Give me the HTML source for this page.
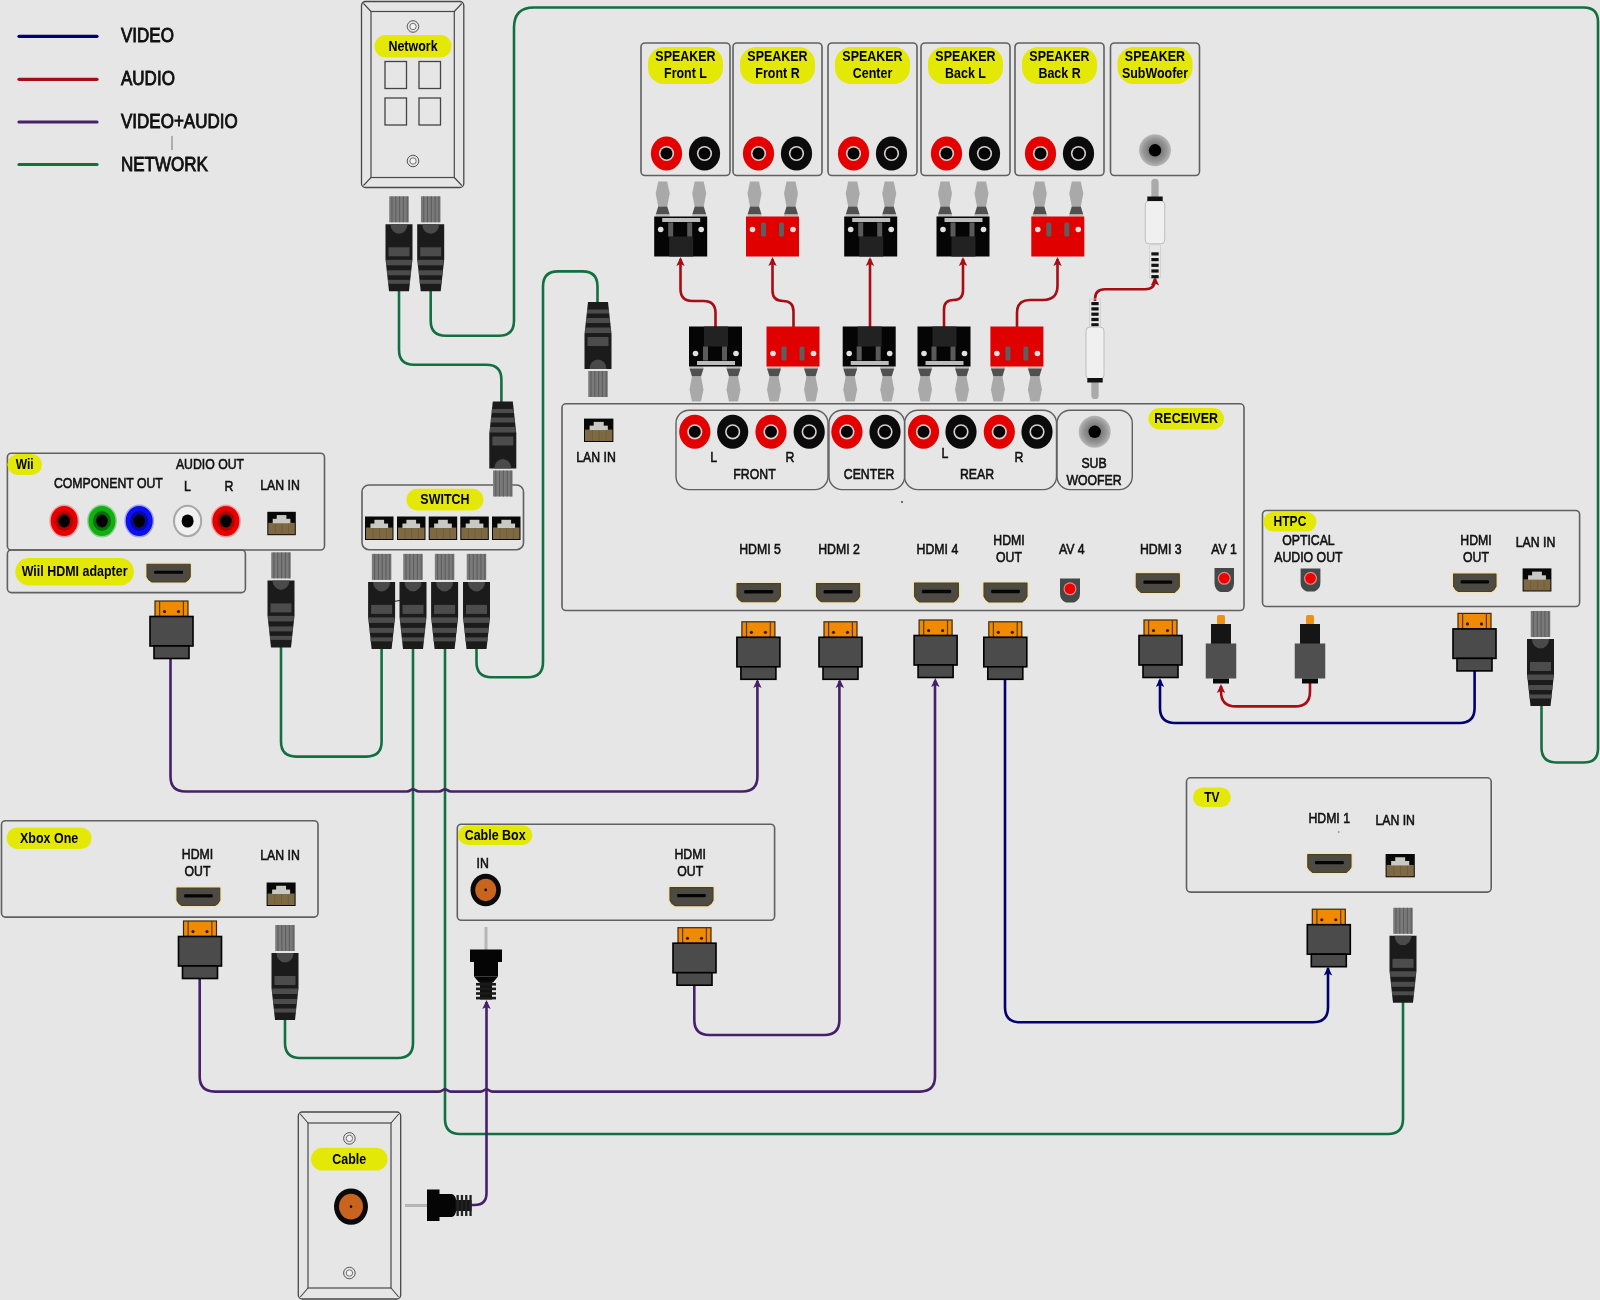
<!DOCTYPE html>
<html><head><meta charset="utf-8"><title>Home theater wiring</title>
<style>html,body{margin:0;padding:0;background:#e6e6e6;}svg{display:block;will-change:transform;}</style>
</head><body>
<svg width="1600" height="1300" viewBox="0 0 1600 1300" style='font-family:"Liberation Sans", sans-serif;'>
<defs><radialGradient id="subg"><stop offset="0.35" stop-color="#777"/><stop offset="0.75" stop-color="#999"/><stop offset="1" stop-color="#b8b8b8"/></radialGradient></defs>
<rect x="0" y="0" width="1600" height="1300" fill="#e6e6e6"/>
<line x1="19" y1="36.3" x2="97" y2="36.3" stroke="#00006e" stroke-width="3.2" stroke-linecap="round"/>
<line x1="19" y1="79.3" x2="97" y2="79.3" stroke="#a80c14" stroke-width="3.2" stroke-linecap="round"/>
<line x1="19" y1="122" x2="97" y2="122" stroke="#47206a" stroke-width="3.2" stroke-linecap="round"/>
<line x1="19" y1="164.5" x2="97" y2="164.5" stroke="#127040" stroke-width="3.2" stroke-linecap="round"/>
<line x1="172" y1="136" x2="172" y2="150" stroke="#777" stroke-width="1"/>
<text transform="translate(121 42.28) scale(0.83 1)" text-anchor="start" font-size="20.5" font-weight="normal" fill="#111" stroke="#111" stroke-width="0.9">VIDEO</text>
<text transform="translate(121 84.98) scale(0.83 1)" text-anchor="start" font-size="20.5" font-weight="normal" fill="#111" stroke="#111" stroke-width="0.9">AUDIO</text>
<text transform="translate(121 127.78) scale(0.83 1)" text-anchor="start" font-size="20.5" font-weight="normal" fill="#111" stroke="#111" stroke-width="0.9">VIDEO+AUDIO</text>
<text transform="translate(121 170.58) scale(0.83 1)" text-anchor="start" font-size="20.5" font-weight="normal" fill="#111" stroke="#111" stroke-width="0.9">NETWORK</text>
<path d="M430.7 290 V320.7 Q430.7 335.7 445.7 335.7 H499 Q514 335.7 514 320.7 V27.5 Q514 7.5 534 7.5 H1584 Q1598 7.7 1598 21.7 V748.5 Q1598 762.5 1584 762.5 H1556.5 Q1541.5 762.5 1541.5 747.5 V705" fill="none" stroke="#127040" stroke-width="2.6" stroke-linejoin="round"/>
<path d="M399 290 V349.7 Q399 364.7 414 364.7 H486.4 Q501.4 364.7 501.4 379.7 V402" fill="none" stroke="#127040" stroke-width="2.6" stroke-linejoin="round"/>
<path d="M597.5 302 V286.4 Q597.5 271.4 582.5 271.4 H558 Q543 271.4 543 286.4 V662.3 Q543 677.3 528 677.3 H491.5 Q476.5 677.3 476.5 662.3 V648" fill="none" stroke="#127040" stroke-width="2.6" stroke-linejoin="round"/>
<path d="M281 647 V741.6 Q281 756.6 296 756.6 H366.6 Q381.6 756.6 381.6 741.6 V648" fill="none" stroke="#127040" stroke-width="2.6" stroke-linejoin="round"/>
<path d="M413 648 V1043 Q413 1058 398 1058 H300 Q285 1058 285 1043 V1019" fill="none" stroke="#127040" stroke-width="2.6" stroke-linejoin="round"/>
<path d="M445 648 V1119 Q445 1134 460 1134 H1388 Q1403 1134 1403 1119 V1002" fill="none" stroke="#127040" stroke-width="2.6" stroke-linejoin="round"/>
<path d="M170.5 657 V776.5 Q170.5 791.5 185.5 791.5 H407.0 C410.0 791.5 411.0 789.2 413.0 789.2 C415.0 789.2 416.0 791.5 419.0 791.5 H439.0 C442.0 791.5 443.0 789.2 445.0 789.2 C447.0 789.2 448.0 791.5 451.0 791.5 H742.4 Q757.4 791.5 757.4 776.5 V681" fill="none" stroke="#47206a" stroke-width="2.6" stroke-linejoin="round"/>
<path d="M757.4 679 L761.6 688 L757.4 686 L753.2 688 Z" fill="#47206a"/>
<path d="M694.3 984 V1020 Q694.3 1035 709.3 1035 H824.4 Q839.4 1035 839.4 1020 V681" fill="none" stroke="#47206a" stroke-width="2.6" stroke-linejoin="round"/>
<path d="M839.8 679 L844 688 L839.8 686 L835.6 688 Z" fill="#47206a"/>
<path d="M199.7 978 V1076.6 Q199.7 1091.6 214.7 1091.6 H439.0 C442.0 1091.6 443.0 1089.3 445.0 1089.3 C447.0 1089.3 448.0 1091.6 451.0 1091.6 H480.5 C483.5 1091.6 484.5 1089.3 486.5 1089.3 C488.5 1089.3 489.5 1091.6 492.5 1091.6 H920 Q935 1091.6 935 1076.6 V681" fill="none" stroke="#47206a" stroke-width="2.6" stroke-linejoin="round"/>
<path d="M935.3 678 L939.5 687 L935.3 685 L931.1 687 Z" fill="#47206a"/>
<path d="M470 1205 H474.5 Q486.5 1205 486.5 1193 V1002" fill="none" stroke="#47206a" stroke-width="2.6" stroke-linejoin="round"/>
<path d="M486.5 1000 L490.7 1009 L486.5 1007 L482.3 1009 Z" fill="#47206a"/>
<path d="M1005 679 V1007.3 Q1005 1022.3 1020 1022.3 H1313 Q1328 1022.3 1328 1007.3 V968" fill="none" stroke="#00006e" stroke-width="2.6" stroke-linejoin="round"/>
<path d="M1328 966.5 L1332.2 975.5 L1328 973.5 L1323.8 975.5 Z" fill="#00006e"/>
<path d="M1474.6 671 V708 Q1474.6 723 1459.6 723 H1175 Q1160 723 1160 708 V680" fill="none" stroke="#00006e" stroke-width="2.6" stroke-linejoin="round"/>
<path d="M1160 678 L1164.2 687 L1160 685 L1155.8 687 Z" fill="#00006e"/>
<path d="M1310 683 V691.4 Q1310 706.4 1295 706.4 H1236 Q1221 706.4 1221 691.4 V686" fill="none" stroke="#a80c14" stroke-width="2.6" stroke-linejoin="round"/>
<path d="M1221 684 L1225.2 693 L1221 691 L1216.8 693 Z" fill="#a80c14"/>
<path d="M715.5 327 V313 Q715.5 301 703.5 301 H692.5 Q680.5 301 680.5 289 V259" fill="none" stroke="#a80c14" stroke-width="2.6" stroke-linejoin="round"/>
<path d="M680.5 257 L684.7 266 L680.5 264 L676.3 266 Z" fill="#a80c14"/>
<path d="M793.5 327 V311.5 Q793.5 301 783 301 Q772.5 301 772.5 290.5 V259" fill="none" stroke="#a80c14" stroke-width="2.6" stroke-linejoin="round"/>
<path d="M772.5 257 L776.7 266 L772.5 264 L768.3 266 Z" fill="#a80c14"/>
<path d="M870 327 V259" fill="none" stroke="#a80c14" stroke-width="2.6" stroke-linejoin="round"/>
<path d="M870 257 L874.2 266 L870 264 L865.8 266 Z" fill="#a80c14"/>
<path d="M944 327 V309.5 Q944 300 953.5 300 Q963 300 963 290.5 V259" fill="none" stroke="#a80c14" stroke-width="2.6" stroke-linejoin="round"/>
<path d="M963 257 L967.2 266 L963 264 L958.8 266 Z" fill="#a80c14"/>
<path d="M1017 327 V313 Q1017 300 1030 300 H1043 Q1057.5 300 1057.5 285.5 V259" fill="none" stroke="#a80c14" stroke-width="2.6" stroke-linejoin="round"/>
<path d="M1057.5 257 L1061.7 266 L1057.5 264 L1053.3 266 Z" fill="#a80c14"/>
<path d="M1095 301 V299 Q1095 289.2 1105 289.2 H1145 Q1155 289.2 1155 279.2 V279" fill="none" stroke="#a80c14" stroke-width="2.6" stroke-linejoin="round"/>
<path d="M1155 276.5 L1159.2 285.5 L1155 283.5 L1150.8 285.5 Z" fill="#a80c14"/>
<rect x="361.5" y="1.5" width="102.3" height="186" rx="4" fill="none" stroke="#484848" stroke-width="1.3"/>
<rect x="371" y="11.5" width="83.3" height="166" fill="none" stroke="#484848" stroke-width="1.2"/>
<line x1="363.5" y1="3.5" x2="371" y2="11.5" stroke="#444" stroke-width="1.1"/>
<line x1="461.8" y1="3.5" x2="454.3" y2="11.5" stroke="#444" stroke-width="1.1"/>
<line x1="363.5" y1="185.5" x2="371" y2="177.5" stroke="#444" stroke-width="1.1"/>
<line x1="461.8" y1="185.5" x2="454.3" y2="177.5" stroke="#444" stroke-width="1.1"/>
<circle cx="413" cy="26.5" r="5.8" fill="#e4e4e4" stroke="#555" stroke-width="1"/>
<circle cx="413" cy="26.5" r="3.2" fill="#f2f2f2" stroke="#666" stroke-width="0.9"/>
<circle cx="413" cy="161" r="5.8" fill="#e4e4e4" stroke="#555" stroke-width="1"/>
<circle cx="413" cy="161" r="3.2" fill="#f2f2f2" stroke="#666" stroke-width="0.9"/>
<rect x="374.5" y="35" width="77" height="22.5" rx="11.25" fill="#e4e806"/>
<text transform="translate(413 50.67) scale(0.86 1)" text-anchor="middle" font-size="14.5" font-weight="bold" fill="#000">Network</text>
<rect x="385" y="61.5" width="21.5" height="27" fill="none" stroke="#444" stroke-width="1.3"/>
<rect x="419" y="61.5" width="21.5" height="27" fill="none" stroke="#444" stroke-width="1.3"/>
<rect x="385" y="98" width="21.5" height="27" fill="none" stroke="#444" stroke-width="1.3"/>
<rect x="419" y="98" width="21.5" height="27" fill="none" stroke="#444" stroke-width="1.3"/>
<rect x="389.25" y="196.3" width="19.5" height="26" fill="#7a7a7a"/>
<rect x="391.45" y="196.3" width="1.1" height="26" fill="#5e5e5e"/>
<rect x="395.25" y="196.3" width="1.1" height="26" fill="#5e5e5e"/>
<rect x="399.05" y="196.3" width="1.1" height="26" fill="#5e5e5e"/>
<rect x="402.85" y="196.3" width="1.1" height="26" fill="#5e5e5e"/>
<rect x="406.65" y="196.3" width="1.1" height="26" fill="#5e5e5e"/>
<path d="M385.5 224.3 H412.5 V259.3 L409 291.3 H389 L385.5 259.3 Z" fill="#1b1b1b"/>
<path d="M390.5 224.3 A8.5 9.5 0 0 0 407.5 224.3 Z" fill="#4a4a4a"/>
<rect x="388.5" y="247.3" width="21" height="9" fill="#4c4c4c"/>
<rect x="386.2" y="259.8" width="25.6" height="5.5" fill="#4c4c4c"/>
<rect x="387.2" y="270.3" width="23.6" height="5" fill="#4c4c4c"/>
<rect x="388" y="279.8" width="22" height="4" fill="#4c4c4c"/>
<rect x="420.95" y="196.3" width="19.5" height="26" fill="#7a7a7a"/>
<rect x="423.15" y="196.3" width="1.1" height="26" fill="#5e5e5e"/>
<rect x="426.95" y="196.3" width="1.1" height="26" fill="#5e5e5e"/>
<rect x="430.75" y="196.3" width="1.1" height="26" fill="#5e5e5e"/>
<rect x="434.55" y="196.3" width="1.1" height="26" fill="#5e5e5e"/>
<rect x="438.35" y="196.3" width="1.1" height="26" fill="#5e5e5e"/>
<path d="M417.2 224.3 H444.2 V259.3 L440.7 291.3 H420.7 L417.2 259.3 Z" fill="#1b1b1b"/>
<path d="M422.2 224.3 A8.5 9.5 0 0 0 439.2 224.3 Z" fill="#4a4a4a"/>
<rect x="420.2" y="247.3" width="21" height="9" fill="#4c4c4c"/>
<rect x="417.9" y="259.8" width="25.6" height="5.5" fill="#4c4c4c"/>
<rect x="418.9" y="270.3" width="23.6" height="5" fill="#4c4c4c"/>
<rect x="419.7" y="279.8" width="22" height="4" fill="#4c4c4c"/>
<rect x="641" y="43" width="89" height="132.5" rx="4" fill="none" stroke="#606060" stroke-width="1.6"/>
<rect x="648" y="47" width="75" height="37" rx="16" fill="#e4e806"/>
<text transform="translate(685.5 60.67) scale(0.86 1)" text-anchor="middle" font-size="14.5" font-weight="bold" fill="#000">SPEAKER</text>
<text transform="translate(685.5 78.17) scale(0.86 1)" text-anchor="middle" font-size="14.5" font-weight="bold" fill="#000">Front L</text>
<ellipse cx="666.5" cy="153.5" rx="15.6" ry="17" fill="#e30000"/>
<circle cx="666.5" cy="153.5" r="7.6" fill="#d8d0d0"/>
<circle cx="666.5" cy="153.5" r="6" fill="#050505"/>
<ellipse cx="704.5" cy="153.5" rx="15.6" ry="17" fill="#0b0b0b"/>
<circle cx="704.5" cy="153.5" r="7.6" fill="#d8d0d0"/>
<circle cx="704.5" cy="153.5" r="6" fill="#050505"/>
<rect x="733" y="43" width="89" height="132.5" rx="4" fill="none" stroke="#606060" stroke-width="1.6"/>
<rect x="740" y="47" width="75" height="37" rx="16" fill="#e4e806"/>
<text transform="translate(777.5 60.67) scale(0.86 1)" text-anchor="middle" font-size="14.5" font-weight="bold" fill="#000">SPEAKER</text>
<text transform="translate(777.5 78.17) scale(0.86 1)" text-anchor="middle" font-size="14.5" font-weight="bold" fill="#000">Front R</text>
<ellipse cx="758.5" cy="153.5" rx="15.6" ry="17" fill="#e30000"/>
<circle cx="758.5" cy="153.5" r="7.6" fill="#d8d0d0"/>
<circle cx="758.5" cy="153.5" r="6" fill="#050505"/>
<ellipse cx="796.5" cy="153.5" rx="15.6" ry="17" fill="#0b0b0b"/>
<circle cx="796.5" cy="153.5" r="7.6" fill="#d8d0d0"/>
<circle cx="796.5" cy="153.5" r="6" fill="#050505"/>
<rect x="828" y="43" width="89" height="132.5" rx="4" fill="none" stroke="#606060" stroke-width="1.6"/>
<rect x="835" y="47" width="75" height="37" rx="16" fill="#e4e806"/>
<text transform="translate(872.5 60.67) scale(0.86 1)" text-anchor="middle" font-size="14.5" font-weight="bold" fill="#000">SPEAKER</text>
<text transform="translate(872.5 78.17) scale(0.86 1)" text-anchor="middle" font-size="14.5" font-weight="bold" fill="#000">Center</text>
<ellipse cx="853.5" cy="153.5" rx="15.6" ry="17" fill="#e30000"/>
<circle cx="853.5" cy="153.5" r="7.6" fill="#d8d0d0"/>
<circle cx="853.5" cy="153.5" r="6" fill="#050505"/>
<ellipse cx="891.5" cy="153.5" rx="15.6" ry="17" fill="#0b0b0b"/>
<circle cx="891.5" cy="153.5" r="7.6" fill="#d8d0d0"/>
<circle cx="891.5" cy="153.5" r="6" fill="#050505"/>
<rect x="921" y="43" width="89" height="132.5" rx="4" fill="none" stroke="#606060" stroke-width="1.6"/>
<rect x="928" y="47" width="75" height="37" rx="16" fill="#e4e806"/>
<text transform="translate(965.5 60.67) scale(0.86 1)" text-anchor="middle" font-size="14.5" font-weight="bold" fill="#000">SPEAKER</text>
<text transform="translate(965.5 78.17) scale(0.86 1)" text-anchor="middle" font-size="14.5" font-weight="bold" fill="#000">Back L</text>
<ellipse cx="946.5" cy="153.5" rx="15.6" ry="17" fill="#e30000"/>
<circle cx="946.5" cy="153.5" r="7.6" fill="#d8d0d0"/>
<circle cx="946.5" cy="153.5" r="6" fill="#050505"/>
<ellipse cx="984.5" cy="153.5" rx="15.6" ry="17" fill="#0b0b0b"/>
<circle cx="984.5" cy="153.5" r="7.6" fill="#d8d0d0"/>
<circle cx="984.5" cy="153.5" r="6" fill="#050505"/>
<rect x="1015" y="43" width="89" height="132.5" rx="4" fill="none" stroke="#606060" stroke-width="1.6"/>
<rect x="1022" y="47" width="75" height="37" rx="16" fill="#e4e806"/>
<text transform="translate(1059.5 60.67) scale(0.86 1)" text-anchor="middle" font-size="14.5" font-weight="bold" fill="#000">SPEAKER</text>
<text transform="translate(1059.5 78.17) scale(0.86 1)" text-anchor="middle" font-size="14.5" font-weight="bold" fill="#000">Back R</text>
<ellipse cx="1040.5" cy="153.5" rx="15.6" ry="17" fill="#e30000"/>
<circle cx="1040.5" cy="153.5" r="7.6" fill="#d8d0d0"/>
<circle cx="1040.5" cy="153.5" r="6" fill="#050505"/>
<ellipse cx="1078.5" cy="153.5" rx="15.6" ry="17" fill="#0b0b0b"/>
<circle cx="1078.5" cy="153.5" r="7.6" fill="#d8d0d0"/>
<circle cx="1078.5" cy="153.5" r="6" fill="#050505"/>
<rect x="1110.5" y="43" width="89" height="132.5" rx="4" fill="none" stroke="#606060" stroke-width="1.6"/>
<rect x="1117.5" y="47" width="75" height="37" rx="16" fill="#e4e806"/>
<text transform="translate(1155 60.67) scale(0.86 1)" text-anchor="middle" font-size="14.5" font-weight="bold" fill="#000">SPEAKER</text>
<text transform="translate(1155 78.17) scale(0.86 1)" text-anchor="middle" font-size="14.5" font-weight="bold" fill="#000">SubWoofer</text>
<circle cx="1155" cy="150.3" r="16" fill="url(#subg)"/>
<circle cx="1155" cy="150.3" r="6.2" fill="#000"/>
<path d="M658.2 181.5 H667.2 L669.7 193.5 L667.2 206.5 H658.2 L655.7 193.5 Z" fill="#a9a9a9"/>
<path d="M658.2 206.5 H667.2 L669.7 214.5 H655.7 Z" fill="#505050"/>
<rect x="655.7" y="214.5" width="14" height="2" fill="#bdbdbd"/>
<path d="M694.7 181.5 H703.7 L706.2 193.5 L703.7 206.5 H694.7 L692.2 193.5 Z" fill="#a9a9a9"/>
<path d="M694.7 206.5 H703.7 L706.2 214.5 H692.2 Z" fill="#505050"/>
<rect x="692.2" y="214.5" width="14" height="2" fill="#bdbdbd"/>
<rect x="654.2" y="216.5" width="53" height="40" fill="#050505"/>
<rect x="669.2" y="236.5" width="24" height="20" fill="#222"/>
<rect x="668.2" y="222.5" width="5" height="14" fill="#5a5a5a"/>
<rect x="687.2" y="222.5" width="5" height="14" fill="#5a5a5a"/>
<rect x="662.2" y="218" width="38" height="4" fill="#bcbcbc"/>
<circle cx="660.7" cy="229.5" r="2.8" fill="#e0e0e0"/>
<circle cx="701.2" cy="229.5" r="2.8" fill="#e0e0e0"/>
<path d="M750 181.5 H759 L761.5 193.5 L759 206.5 H750 L747.5 193.5 Z" fill="#a9a9a9"/>
<path d="M750 206.5 H759 L761.5 214.5 H747.5 Z" fill="#505050"/>
<rect x="747.5" y="214.5" width="14" height="2" fill="#bdbdbd"/>
<path d="M786.5 181.5 H795.5 L798 193.5 L795.5 206.5 H786.5 L784 193.5 Z" fill="#a9a9a9"/>
<path d="M786.5 206.5 H795.5 L798 214.5 H784 Z" fill="#505050"/>
<rect x="784" y="214.5" width="14" height="2" fill="#bdbdbd"/>
<rect x="746" y="216.5" width="53" height="40" fill="#e00000"/>
<rect x="761" y="222.5" width="5" height="14" rx="1.5" fill="#5e5e5e"/>
<rect x="779" y="222.5" width="5" height="14" rx="1.5" fill="#5e5e5e"/>
<circle cx="752.5" cy="229.5" r="2.8" fill="#e0e0e0"/>
<circle cx="793" cy="229.5" r="2.8" fill="#e0e0e0"/>
<path d="M848.2 181.5 H857.2 L859.7 193.5 L857.2 206.5 H848.2 L845.7 193.5 Z" fill="#a9a9a9"/>
<path d="M848.2 206.5 H857.2 L859.7 214.5 H845.7 Z" fill="#505050"/>
<rect x="845.7" y="214.5" width="14" height="2" fill="#bdbdbd"/>
<path d="M884.7 181.5 H893.7 L896.2 193.5 L893.7 206.5 H884.7 L882.2 193.5 Z" fill="#a9a9a9"/>
<path d="M884.7 206.5 H893.7 L896.2 214.5 H882.2 Z" fill="#505050"/>
<rect x="882.2" y="214.5" width="14" height="2" fill="#bdbdbd"/>
<rect x="844.2" y="216.5" width="53" height="40" fill="#050505"/>
<rect x="859.2" y="236.5" width="24" height="20" fill="#222"/>
<rect x="858.2" y="222.5" width="5" height="14" fill="#5a5a5a"/>
<rect x="877.2" y="222.5" width="5" height="14" fill="#5a5a5a"/>
<rect x="852.2" y="218" width="38" height="4" fill="#bcbcbc"/>
<circle cx="850.7" cy="229.5" r="2.8" fill="#e0e0e0"/>
<circle cx="891.2" cy="229.5" r="2.8" fill="#e0e0e0"/>
<path d="M940.5 181.5 H949.5 L952 193.5 L949.5 206.5 H940.5 L938 193.5 Z" fill="#a9a9a9"/>
<path d="M940.5 206.5 H949.5 L952 214.5 H938 Z" fill="#505050"/>
<rect x="938" y="214.5" width="14" height="2" fill="#bdbdbd"/>
<path d="M977 181.5 H986 L988.5 193.5 L986 206.5 H977 L974.5 193.5 Z" fill="#a9a9a9"/>
<path d="M977 206.5 H986 L988.5 214.5 H974.5 Z" fill="#505050"/>
<rect x="974.5" y="214.5" width="14" height="2" fill="#bdbdbd"/>
<rect x="936.5" y="216.5" width="53" height="40" fill="#050505"/>
<rect x="951.5" y="236.5" width="24" height="20" fill="#222"/>
<rect x="950.5" y="222.5" width="5" height="14" fill="#5a5a5a"/>
<rect x="969.5" y="222.5" width="5" height="14" fill="#5a5a5a"/>
<rect x="944.5" y="218" width="38" height="4" fill="#bcbcbc"/>
<circle cx="943" cy="229.5" r="2.8" fill="#e0e0e0"/>
<circle cx="983.5" cy="229.5" r="2.8" fill="#e0e0e0"/>
<path d="M1035.3 181.5 H1044.3 L1046.8 193.5 L1044.3 206.5 H1035.3 L1032.8 193.5 Z" fill="#a9a9a9"/>
<path d="M1035.3 206.5 H1044.3 L1046.8 214.5 H1032.8 Z" fill="#505050"/>
<rect x="1032.8" y="214.5" width="14" height="2" fill="#bdbdbd"/>
<path d="M1071.8 181.5 H1080.8 L1083.3 193.5 L1080.8 206.5 H1071.8 L1069.3 193.5 Z" fill="#a9a9a9"/>
<path d="M1071.8 206.5 H1080.8 L1083.3 214.5 H1069.3 Z" fill="#505050"/>
<rect x="1069.3" y="214.5" width="14" height="2" fill="#bdbdbd"/>
<rect x="1031.3" y="216.5" width="53" height="40" fill="#e00000"/>
<rect x="1046.3" y="222.5" width="5" height="14" rx="1.5" fill="#5e5e5e"/>
<rect x="1064.3" y="222.5" width="5" height="14" rx="1.5" fill="#5e5e5e"/>
<circle cx="1037.8" cy="229.5" r="2.8" fill="#e0e0e0"/>
<circle cx="1078.3" cy="229.5" r="2.8" fill="#e0e0e0"/>
<rect x="1151.35" y="178.8" width="7.3" height="20" rx="3.6" fill="#aaaaaa"/>
<rect x="1145.25" y="200.8" width="19.5" height="43" rx="4" fill="#f0f0f0" stroke="#bdbdbd" stroke-width="1"/>
<rect x="1147.3" y="196.5" width="15.4" height="4.5" fill="#111"/>
<rect x="1149.5" y="244.8" width="11" height="33" fill="none" stroke="#cfcfcf" stroke-width="0.8"/>
<rect x="1151.35" y="252.3" width="7.3" height="3.2" fill="#111"/>
<rect x="1151.35" y="258" width="7.3" height="3.2" fill="#111"/>
<rect x="1151.35" y="263.7" width="7.3" height="3.2" fill="#111"/>
<rect x="1151.35" y="269.4" width="7.3" height="3.2" fill="#111"/>
<rect x="1151.35" y="275.1" width="7.3" height="3.2" fill="#111"/>
<rect x="689.5" y="366.5" width="14" height="2" fill="#bdbdbd"/>
<path d="M689.5 368.5 H703.5 L701 376.5 H692 Z" fill="#505050"/>
<path d="M692 376.5 H701 L703.5 389.5 L701 401.5 H692 L689.5 389.5 Z" fill="#a9a9a9"/>
<rect x="726.5" y="366.5" width="14" height="2" fill="#bdbdbd"/>
<path d="M726.5 368.5 H740.5 L738 376.5 H729 Z" fill="#505050"/>
<path d="M729 376.5 H738 L740.5 389.5 L738 401.5 H729 L726.5 389.5 Z" fill="#a9a9a9"/>
<rect x="689" y="326.5" width="53" height="40" fill="#050505"/>
<rect x="704" y="326.5" width="24" height="20" fill="#222"/>
<rect x="703" y="346.5" width="5" height="14" fill="#5a5a5a"/>
<rect x="722" y="346.5" width="5" height="14" fill="#5a5a5a"/>
<rect x="697" y="361" width="38" height="4" fill="#bcbcbc"/>
<circle cx="695.5" cy="353.5" r="2.8" fill="#e0e0e0"/>
<circle cx="736" cy="353.5" r="2.8" fill="#e0e0e0"/>
<rect x="767" y="366.5" width="14" height="2" fill="#bdbdbd"/>
<path d="M767 368.5 H781 L778.5 376.5 H769.5 Z" fill="#505050"/>
<path d="M769.5 376.5 H778.5 L781 389.5 L778.5 401.5 H769.5 L767 389.5 Z" fill="#a9a9a9"/>
<rect x="804" y="366.5" width="14" height="2" fill="#bdbdbd"/>
<path d="M804 368.5 H818 L815.5 376.5 H806.5 Z" fill="#505050"/>
<path d="M806.5 376.5 H815.5 L818 389.5 L815.5 401.5 H806.5 L804 389.5 Z" fill="#a9a9a9"/>
<rect x="766.5" y="326.5" width="53" height="40" fill="#e00000"/>
<rect x="781.5" y="346.5" width="5" height="14" rx="1.5" fill="#5e5e5e"/>
<rect x="799.5" y="346.5" width="5" height="14" rx="1.5" fill="#5e5e5e"/>
<circle cx="773" cy="353.5" r="2.8" fill="#e0e0e0"/>
<circle cx="813.5" cy="353.5" r="2.8" fill="#e0e0e0"/>
<rect x="843.2" y="366.5" width="14" height="2" fill="#bdbdbd"/>
<path d="M843.2 368.5 H857.2 L854.7 376.5 H845.7 Z" fill="#505050"/>
<path d="M845.7 376.5 H854.7 L857.2 389.5 L854.7 401.5 H845.7 L843.2 389.5 Z" fill="#a9a9a9"/>
<rect x="880.2" y="366.5" width="14" height="2" fill="#bdbdbd"/>
<path d="M880.2 368.5 H894.2 L891.7 376.5 H882.7 Z" fill="#505050"/>
<path d="M882.7 376.5 H891.7 L894.2 389.5 L891.7 401.5 H882.7 L880.2 389.5 Z" fill="#a9a9a9"/>
<rect x="842.7" y="326.5" width="53" height="40" fill="#050505"/>
<rect x="857.7" y="326.5" width="24" height="20" fill="#222"/>
<rect x="856.7" y="346.5" width="5" height="14" fill="#5a5a5a"/>
<rect x="875.7" y="346.5" width="5" height="14" fill="#5a5a5a"/>
<rect x="850.7" y="361" width="38" height="4" fill="#bcbcbc"/>
<circle cx="849.2" cy="353.5" r="2.8" fill="#e0e0e0"/>
<circle cx="889.7" cy="353.5" r="2.8" fill="#e0e0e0"/>
<rect x="918" y="366.5" width="14" height="2" fill="#bdbdbd"/>
<path d="M918 368.5 H932 L929.5 376.5 H920.5 Z" fill="#505050"/>
<path d="M920.5 376.5 H929.5 L932 389.5 L929.5 401.5 H920.5 L918 389.5 Z" fill="#a9a9a9"/>
<rect x="955" y="366.5" width="14" height="2" fill="#bdbdbd"/>
<path d="M955 368.5 H969 L966.5 376.5 H957.5 Z" fill="#505050"/>
<path d="M957.5 376.5 H966.5 L969 389.5 L966.5 401.5 H957.5 L955 389.5 Z" fill="#a9a9a9"/>
<rect x="917.5" y="326.5" width="53" height="40" fill="#050505"/>
<rect x="932.5" y="326.5" width="24" height="20" fill="#222"/>
<rect x="931.5" y="346.5" width="5" height="14" fill="#5a5a5a"/>
<rect x="950.5" y="346.5" width="5" height="14" fill="#5a5a5a"/>
<rect x="925.5" y="361" width="38" height="4" fill="#bcbcbc"/>
<circle cx="924" cy="353.5" r="2.8" fill="#e0e0e0"/>
<circle cx="964.5" cy="353.5" r="2.8" fill="#e0e0e0"/>
<rect x="990.9" y="366.5" width="14" height="2" fill="#bdbdbd"/>
<path d="M990.9 368.5 H1004.9 L1002.4 376.5 H993.4 Z" fill="#505050"/>
<path d="M993.4 376.5 H1002.4 L1004.9 389.5 L1002.4 401.5 H993.4 L990.9 389.5 Z" fill="#a9a9a9"/>
<rect x="1027.9" y="366.5" width="14" height="2" fill="#bdbdbd"/>
<path d="M1027.9 368.5 H1041.9 L1039.4 376.5 H1030.4 Z" fill="#505050"/>
<path d="M1030.4 376.5 H1039.4 L1041.9 389.5 L1039.4 401.5 H1030.4 L1027.9 389.5 Z" fill="#a9a9a9"/>
<rect x="990.4" y="326.5" width="53" height="40" fill="#e00000"/>
<rect x="1005.4" y="346.5" width="5" height="14" rx="1.5" fill="#5e5e5e"/>
<rect x="1023.4" y="346.5" width="5" height="14" rx="1.5" fill="#5e5e5e"/>
<circle cx="996.9" cy="353.5" r="2.8" fill="#e0e0e0"/>
<circle cx="1037.4" cy="353.5" r="2.8" fill="#e0e0e0"/>
<rect x="1091.35" y="302" width="7.3" height="3.2" fill="#111"/>
<rect x="1091.35" y="307.3" width="7.3" height="3.2" fill="#111"/>
<rect x="1091.35" y="312.6" width="7.3" height="3.2" fill="#111"/>
<rect x="1091.35" y="317.9" width="7.3" height="3.2" fill="#111"/>
<rect x="1091.35" y="323.2" width="7.3" height="3.2" fill="#111"/>
<rect x="1089.5" y="299" width="11" height="28" fill="none" stroke="#cfcfcf" stroke-width="0.8"/>
<rect x="1086" y="327" width="18" height="52" rx="4" fill="#f0f0f0" stroke="#bdbdbd" stroke-width="1"/>
<rect x="1091.35" y="379" width="7.3" height="20" rx="3.6" fill="#aaaaaa"/>
<rect x="1087.3" y="378" width="15.4" height="4.5" fill="#111"/>
<rect x="562" y="403.8" width="682" height="206.7" rx="4" fill="none" stroke="#606060" stroke-width="1.6"/>
<rect x="676" y="410.3" width="152" height="79.3" rx="13" fill="none" stroke="#606060" stroke-width="1.4"/>
<rect x="829" y="410.3" width="75.6" height="79.3" rx="13" fill="none" stroke="#606060" stroke-width="1.4"/>
<rect x="904.6" y="410.3" width="151.9" height="79.3" rx="13" fill="none" stroke="#606060" stroke-width="1.4"/>
<rect x="1057" y="410.3" width="75.3" height="79.3" rx="13" fill="none" stroke="#606060" stroke-width="1.4"/>
<ellipse cx="694.8" cy="431.8" rx="15.6" ry="17" fill="#e30000"/>
<circle cx="694.8" cy="431.8" r="7.6" fill="#d8d0d0"/>
<circle cx="694.8" cy="431.8" r="6" fill="#050505"/>
<ellipse cx="732.7" cy="431.8" rx="15.6" ry="17" fill="#0b0b0b"/>
<circle cx="732.7" cy="431.8" r="7.6" fill="#d8d0d0"/>
<circle cx="732.7" cy="431.8" r="6" fill="#050505"/>
<ellipse cx="771" cy="431.8" rx="15.6" ry="17" fill="#e30000"/>
<circle cx="771" cy="431.8" r="7.6" fill="#d8d0d0"/>
<circle cx="771" cy="431.8" r="6" fill="#050505"/>
<ellipse cx="809.2" cy="431.8" rx="15.6" ry="17" fill="#0b0b0b"/>
<circle cx="809.2" cy="431.8" r="7.6" fill="#d8d0d0"/>
<circle cx="809.2" cy="431.8" r="6" fill="#050505"/>
<ellipse cx="846.9" cy="431.8" rx="15.6" ry="17" fill="#e30000"/>
<circle cx="846.9" cy="431.8" r="7.6" fill="#d8d0d0"/>
<circle cx="846.9" cy="431.8" r="6" fill="#050505"/>
<ellipse cx="885" cy="431.8" rx="15.6" ry="17" fill="#0b0b0b"/>
<circle cx="885" cy="431.8" r="7.6" fill="#d8d0d0"/>
<circle cx="885" cy="431.8" r="6" fill="#050505"/>
<ellipse cx="923.5" cy="431.8" rx="15.6" ry="17" fill="#e30000"/>
<circle cx="923.5" cy="431.8" r="7.6" fill="#d8d0d0"/>
<circle cx="923.5" cy="431.8" r="6" fill="#050505"/>
<ellipse cx="961" cy="431.8" rx="15.6" ry="17" fill="#0b0b0b"/>
<circle cx="961" cy="431.8" r="7.6" fill="#d8d0d0"/>
<circle cx="961" cy="431.8" r="6" fill="#050505"/>
<ellipse cx="999.3" cy="431.8" rx="15.6" ry="17" fill="#e30000"/>
<circle cx="999.3" cy="431.8" r="7.6" fill="#d8d0d0"/>
<circle cx="999.3" cy="431.8" r="6" fill="#050505"/>
<ellipse cx="1037" cy="431.8" rx="15.6" ry="17" fill="#0b0b0b"/>
<circle cx="1037" cy="431.8" r="7.6" fill="#d8d0d0"/>
<circle cx="1037" cy="431.8" r="6" fill="#050505"/>
<circle cx="1094.7" cy="431.8" r="16" fill="url(#subg)"/>
<circle cx="1094.7" cy="431.8" r="6.2" fill="#000"/>
<rect x="584" y="418.6" width="29.4" height="23.4" fill="#080808"/>
<rect x="585" y="429.6" width="27.4" height="11.4" fill="#7d6a44"/>
<rect x="591.85" y="429.6" width="0.8" height="11.4" fill="#6c5b3a"/>
<rect x="598.7" y="429.6" width="0.8" height="11.4" fill="#6c5b3a"/>
<rect x="605.55" y="429.6" width="0.8" height="11.4" fill="#6c5b3a"/>
<rect x="589.59" y="425.62" width="18.23" height="4.45" fill="#c8c8c4"/>
<rect x="593.7" y="421.88" width="10" height="4.68" fill="#c8c8c4"/>
<text transform="translate(596 461.73) scale(0.83 1)" text-anchor="middle" font-size="14.8" font-weight="normal" fill="#111" stroke="#111" stroke-width="0.6">LAN IN</text>
<text transform="translate(713.6 461.73) scale(0.83 1)" text-anchor="middle" font-size="14.8" font-weight="normal" fill="#111" stroke="#111" stroke-width="0.6">L</text>
<text transform="translate(790 461.73) scale(0.83 1)" text-anchor="middle" font-size="14.8" font-weight="normal" fill="#111" stroke="#111" stroke-width="0.6">R</text>
<text transform="translate(754.5 478.73) scale(0.83 1)" text-anchor="middle" font-size="14.8" font-weight="normal" fill="#111" stroke="#111" stroke-width="0.6">FRONT</text>
<text transform="translate(869 478.73) scale(0.83 1)" text-anchor="middle" font-size="14.8" font-weight="normal" fill="#111" stroke="#111" stroke-width="0.6">CENTER</text>
<text transform="translate(945 457.53) scale(0.83 1)" text-anchor="middle" font-size="14.8" font-weight="normal" fill="#111" stroke="#111" stroke-width="0.6">L</text>
<text transform="translate(1019 461.73) scale(0.83 1)" text-anchor="middle" font-size="14.8" font-weight="normal" fill="#111" stroke="#111" stroke-width="0.6">R</text>
<text transform="translate(977 478.73) scale(0.83 1)" text-anchor="middle" font-size="14.8" font-weight="normal" fill="#111" stroke="#111" stroke-width="0.6">REAR</text>
<text transform="translate(1094 468.23) scale(0.83 1)" text-anchor="middle" font-size="14.8" font-weight="normal" fill="#111" stroke="#111" stroke-width="0.6">SUB</text>
<text transform="translate(1094 485.23) scale(0.83 1)" text-anchor="middle" font-size="14.8" font-weight="normal" fill="#111" stroke="#111" stroke-width="0.6">WOOFER</text>
<rect x="1148.4" y="408" width="75.6" height="21.4" rx="10.7" fill="#e4e806"/>
<text transform="translate(1186.2 423.12) scale(0.86 1)" text-anchor="middle" font-size="14.5" font-weight="bold" fill="#000">RECEIVER</text>
<circle cx="902" cy="502" r="0.9" fill="#333"/>
<text transform="translate(760 553.73) scale(0.83 1)" text-anchor="middle" font-size="14.8" font-weight="normal" fill="#111" stroke="#111" stroke-width="0.6">HDMI 5</text>
<text transform="translate(839 553.73) scale(0.83 1)" text-anchor="middle" font-size="14.8" font-weight="normal" fill="#111" stroke="#111" stroke-width="0.6">HDMI 2</text>
<text transform="translate(937.4 553.73) scale(0.83 1)" text-anchor="middle" font-size="14.8" font-weight="normal" fill="#111" stroke="#111" stroke-width="0.6">HDMI 4</text>
<text transform="translate(1009 545.23) scale(0.83 1)" text-anchor="middle" font-size="14.8" font-weight="normal" fill="#111" stroke="#111" stroke-width="0.6">HDMI</text>
<text transform="translate(1009 562.33) scale(0.83 1)" text-anchor="middle" font-size="14.8" font-weight="normal" fill="#111" stroke="#111" stroke-width="0.6">OUT</text>
<text transform="translate(1071.8 553.73) scale(0.83 1)" text-anchor="middle" font-size="14.8" font-weight="normal" fill="#111" stroke="#111" stroke-width="0.6">AV 4</text>
<text transform="translate(1160.8 553.73) scale(0.83 1)" text-anchor="middle" font-size="14.8" font-weight="normal" fill="#111" stroke="#111" stroke-width="0.6">HDMI 3</text>
<text transform="translate(1224 553.73) scale(0.83 1)" text-anchor="middle" font-size="14.8" font-weight="normal" fill="#111" stroke="#111" stroke-width="0.6">AV 1</text>
<path d="M737 583.6 H780.4 V596.27 Q779.15 599.53 775.41 601.7 H741.99 Q738.25 599.53 737 596.27 Z" fill="none" stroke="#ede3bb" stroke-width="4.2" stroke-linejoin="round"/>
<path d="M737 583.6 H780.4 V596.27 Q779.15 599.53 775.41 601.7 H741.99 Q738.25 599.53 737 596.27 Z" fill="#4d4a44" stroke="#4e3e22" stroke-width="1.1" stroke-linejoin="round"/>
<rect x="744.16" y="590.12" width="29.08" height="3.26" rx="1.2" fill="#050505"/>
<path d="M816.5 583.6 H859.6 V596.27 Q858.36 599.53 854.64 601.7 H821.46 Q817.74 599.53 816.5 596.27 Z" fill="none" stroke="#ede3bb" stroke-width="4.2" stroke-linejoin="round"/>
<path d="M816.5 583.6 H859.6 V596.27 Q858.36 599.53 854.64 601.7 H821.46 Q817.74 599.53 816.5 596.27 Z" fill="#4d4a44" stroke="#4e3e22" stroke-width="1.1" stroke-linejoin="round"/>
<rect x="823.61" y="590.12" width="28.88" height="3.26" rx="1.2" fill="#050505"/>
<path d="M914.6 583 H958.4 V596.3 Q957.14 599.72 953.36 602 H919.64 Q915.86 599.72 914.6 596.3 Z" fill="none" stroke="#ede3bb" stroke-width="4.2" stroke-linejoin="round"/>
<path d="M914.6 583 H958.4 V596.3 Q957.14 599.72 953.36 602 H919.64 Q915.86 599.72 914.6 596.3 Z" fill="#4d4a44" stroke="#4e3e22" stroke-width="1.1" stroke-linejoin="round"/>
<rect x="921.83" y="589.84" width="29.35" height="3.42" rx="1.2" fill="#050505"/>
<path d="M984 583 H1027 V596.3 Q1025.76 599.72 1022.05 602 H988.95 Q985.24 599.72 984 596.3 Z" fill="none" stroke="#ede3bb" stroke-width="4.2" stroke-linejoin="round"/>
<path d="M984 583 H1027 V596.3 Q1025.76 599.72 1022.05 602 H988.95 Q985.24 599.72 984 596.3 Z" fill="#4d4a44" stroke="#4e3e22" stroke-width="1.1" stroke-linejoin="round"/>
<rect x="991.1" y="589.84" width="28.81" height="3.42" rx="1.2" fill="#050505"/>
<path d="M1136.3 573.7 H1179.3 V586.86 Q1178.06 590.24 1174.36 592.5 H1141.24 Q1137.54 590.24 1136.3 586.86 Z" fill="none" stroke="#ede3bb" stroke-width="4.2" stroke-linejoin="round"/>
<path d="M1136.3 573.7 H1179.3 V586.86 Q1178.06 590.24 1174.36 592.5 H1141.24 Q1137.54 590.24 1136.3 586.86 Z" fill="#4d4a44" stroke="#4e3e22" stroke-width="1.1" stroke-linejoin="round"/>
<rect x="1143.39" y="580.47" width="28.81" height="3.38" rx="1.2" fill="#050505"/>
<path d="M1060 578.5 H1080 V593.38 Q1080 600.1 1074 602.5 H1066 Q1060 600.1 1060 593.38 Z" fill="#434848"/>
<circle cx="1070" cy="588.82" r="6.5" fill="#d88"/>
<circle cx="1070" cy="588.82" r="5.3" fill="#ee0000"/>
<path d="M1214.5 568 H1234 V582.88 Q1234 589.6 1228.15 592 H1220.35 Q1214.5 589.6 1214.5 582.88 Z" fill="#434848"/>
<circle cx="1224.25" cy="578.32" r="6.5" fill="#d88"/>
<circle cx="1224.25" cy="578.32" r="5.3" fill="#ee0000"/>
<rect x="741.9" y="621.8" width="33" height="15.5" fill="#f08a00" stroke="#3a2a10" stroke-width="1.2"/>
<rect x="745.9" y="621.8" width="1.2" height="15.5" fill="#5a3a10"/>
<rect x="769.7" y="621.8" width="1.2" height="15.5" fill="#5a3a10"/>
<circle cx="751.4" cy="632.34" r="1.6" fill="#3a1a00"/>
<circle cx="765.4" cy="632.34" r="1.6" fill="#3a1a00"/>
<rect x="736.9" y="637.3" width="43" height="29.5" fill="#4b4b4b" stroke="#000" stroke-width="1.6"/>
<rect x="740.9" y="666.8" width="35" height="12.5" fill="#4b4b4b" stroke="#000" stroke-width="1.6"/>
<rect x="824" y="621.8" width="33" height="15.5" fill="#f08a00" stroke="#3a2a10" stroke-width="1.2"/>
<rect x="828" y="621.8" width="1.2" height="15.5" fill="#5a3a10"/>
<rect x="851.8" y="621.8" width="1.2" height="15.5" fill="#5a3a10"/>
<circle cx="833.5" cy="632.34" r="1.6" fill="#3a1a00"/>
<circle cx="847.5" cy="632.34" r="1.6" fill="#3a1a00"/>
<rect x="819" y="637.3" width="43" height="29.5" fill="#4b4b4b" stroke="#000" stroke-width="1.6"/>
<rect x="823" y="666.8" width="35" height="12.5" fill="#4b4b4b" stroke="#000" stroke-width="1.6"/>
<rect x="919.1" y="620" width="33" height="15.5" fill="#f08a00" stroke="#3a2a10" stroke-width="1.2"/>
<rect x="923.1" y="620" width="1.2" height="15.5" fill="#5a3a10"/>
<rect x="946.9" y="620" width="1.2" height="15.5" fill="#5a3a10"/>
<circle cx="928.6" cy="630.54" r="1.6" fill="#3a1a00"/>
<circle cx="942.6" cy="630.54" r="1.6" fill="#3a1a00"/>
<rect x="914.1" y="635.5" width="43" height="29.5" fill="#4b4b4b" stroke="#000" stroke-width="1.6"/>
<rect x="918.1" y="665" width="35" height="12.5" fill="#4b4b4b" stroke="#000" stroke-width="1.6"/>
<rect x="988.8" y="621.8" width="33" height="15.5" fill="#f08a00" stroke="#3a2a10" stroke-width="1.2"/>
<rect x="992.8" y="621.8" width="1.2" height="15.5" fill="#5a3a10"/>
<rect x="1016.6" y="621.8" width="1.2" height="15.5" fill="#5a3a10"/>
<circle cx="998.3" cy="632.34" r="1.6" fill="#3a1a00"/>
<circle cx="1012.3" cy="632.34" r="1.6" fill="#3a1a00"/>
<rect x="983.8" y="637.3" width="43" height="29.5" fill="#4b4b4b" stroke="#000" stroke-width="1.6"/>
<rect x="987.8" y="666.8" width="35" height="12.5" fill="#4b4b4b" stroke="#000" stroke-width="1.6"/>
<rect x="1144" y="620" width="33" height="15.5" fill="#f08a00" stroke="#3a2a10" stroke-width="1.2"/>
<rect x="1148" y="620" width="1.2" height="15.5" fill="#5a3a10"/>
<rect x="1171.8" y="620" width="1.2" height="15.5" fill="#5a3a10"/>
<circle cx="1153.5" cy="630.54" r="1.6" fill="#3a1a00"/>
<circle cx="1167.5" cy="630.54" r="1.6" fill="#3a1a00"/>
<rect x="1139" y="635.5" width="43" height="29.5" fill="#4b4b4b" stroke="#000" stroke-width="1.6"/>
<rect x="1143" y="665" width="35" height="12.5" fill="#4b4b4b" stroke="#000" stroke-width="1.6"/>
<rect x="1217" y="615" width="8" height="10" rx="2" fill="#ee9010"/>
<rect x="1211" y="624" width="20" height="20" fill="#151515"/>
<rect x="1205.75" y="643.5" width="30.5" height="35" fill="#4f4f4f"/>
<rect x="1213" y="678.5" width="16" height="5" fill="#0a0a0a"/>
<rect x="1306" y="615" width="8" height="10" rx="2" fill="#ee9010"/>
<rect x="1300" y="624" width="20" height="20" fill="#151515"/>
<rect x="1294.75" y="643.5" width="30.5" height="35" fill="#4f4f4f"/>
<rect x="1302" y="678.5" width="16" height="5" fill="#0a0a0a"/>
<path d="M588 302 H608 L611.5 334 V369 H584.5 V334 Z" fill="#1b1b1b"/>
<rect x="587" y="309.5" width="22" height="4" fill="#4c4c4c"/>
<rect x="586.2" y="318" width="23.6" height="5" fill="#4c4c4c"/>
<rect x="585.2" y="327.5" width="25.6" height="5.5" fill="#4c4c4c"/>
<rect x="587.5" y="337" width="21" height="9" fill="#4c4c4c"/>
<path d="M589.5 369 A8.5 9.5 0 0 1 606.5 369 Z" fill="#4a4a4a"/>
<rect x="588.25" y="371" width="19.5" height="26" fill="#7a7a7a"/>
<rect x="590.45" y="371" width="1.1" height="26" fill="#5e5e5e"/>
<rect x="594.25" y="371" width="1.1" height="26" fill="#5e5e5e"/>
<rect x="598.05" y="371" width="1.1" height="26" fill="#5e5e5e"/>
<rect x="601.85" y="371" width="1.1" height="26" fill="#5e5e5e"/>
<rect x="605.65" y="371" width="1.1" height="26" fill="#5e5e5e"/>
<rect x="1262.5" y="510.5" width="317.1" height="96" rx="4" fill="none" stroke="#606060" stroke-width="1.6"/>
<rect x="1263.4" y="512" width="53.1" height="19.5" rx="9.75" fill="#e4e806"/>
<text transform="translate(1289.95 525.99) scale(0.86 1)" text-anchor="middle" font-size="14" font-weight="bold" fill="#000">HTPC</text>
<text transform="translate(1308.4 545.23) scale(0.83 1)" text-anchor="middle" font-size="14.8" font-weight="normal" fill="#111" stroke="#111" stroke-width="0.6">OPTICAL</text>
<text transform="translate(1308.4 562.33) scale(0.83 1)" text-anchor="middle" font-size="14.8" font-weight="normal" fill="#111" stroke="#111" stroke-width="0.6">AUDIO OUT</text>
<path d="M1300.6 568.4 H1320.4 V582.72 Q1320.4 589.19 1314.46 591.5 H1306.54 Q1300.6 589.19 1300.6 582.72 Z" fill="#434848"/>
<circle cx="1310.5" cy="578.33" r="6.5" fill="#d88"/>
<circle cx="1310.5" cy="578.33" r="5.3" fill="#ee0000"/>
<text transform="translate(1476 545.23) scale(0.83 1)" text-anchor="middle" font-size="14.8" font-weight="normal" fill="#111" stroke="#111" stroke-width="0.6">HDMI</text>
<text transform="translate(1476 562.33) scale(0.83 1)" text-anchor="middle" font-size="14.8" font-weight="normal" fill="#111" stroke="#111" stroke-width="0.6">OUT</text>
<path d="M1453.6 574 H1496 V586.25 Q1494.78 589.4 1491.12 591.5 H1458.48 Q1454.82 589.4 1453.6 586.25 Z" fill="none" stroke="#ede3bb" stroke-width="4.2" stroke-linejoin="round"/>
<path d="M1453.6 574 H1496 V586.25 Q1494.78 589.4 1491.12 591.5 H1458.48 Q1454.82 589.4 1453.6 586.25 Z" fill="#4d4a44" stroke="#4e3e22" stroke-width="1.1" stroke-linejoin="round"/>
<rect x="1460.6" y="580.3" width="28.41" height="3.15" rx="1.2" fill="#050505"/>
<text transform="translate(1535.5 546.73) scale(0.83 1)" text-anchor="middle" font-size="14.8" font-weight="normal" fill="#111" stroke="#111" stroke-width="0.6">LAN IN</text>
<rect x="1522.6" y="568.4" width="28.8" height="23.1" fill="#080808"/>
<rect x="1523.6" y="579.26" width="26.8" height="11.24" fill="#7d6a44"/>
<rect x="1530.3" y="579.26" width="0.8" height="11.24" fill="#6c5b3a"/>
<rect x="1537" y="579.26" width="0.8" height="11.24" fill="#6c5b3a"/>
<rect x="1543.7" y="579.26" width="0.8" height="11.24" fill="#6c5b3a"/>
<rect x="1528.07" y="575.33" width="17.86" height="4.39" fill="#c8c8c4"/>
<rect x="1532.1" y="571.63" width="9.79" height="4.62" fill="#c8c8c4"/>
<rect x="1458" y="613.4" width="33" height="15.5" fill="#f08a00" stroke="#3a2a10" stroke-width="1.2"/>
<rect x="1462" y="613.4" width="1.2" height="15.5" fill="#5a3a10"/>
<rect x="1485.8" y="613.4" width="1.2" height="15.5" fill="#5a3a10"/>
<circle cx="1467.5" cy="623.94" r="1.6" fill="#3a1a00"/>
<circle cx="1481.5" cy="623.94" r="1.6" fill="#3a1a00"/>
<rect x="1453" y="628.9" width="43" height="29.5" fill="#4b4b4b" stroke="#000" stroke-width="1.6"/>
<rect x="1457" y="658.4" width="35" height="12.5" fill="#4b4b4b" stroke="#000" stroke-width="1.6"/>
<rect x="1530.75" y="611" width="19.5" height="26" fill="#7a7a7a"/>
<rect x="1532.95" y="611" width="1.1" height="26" fill="#5e5e5e"/>
<rect x="1536.75" y="611" width="1.1" height="26" fill="#5e5e5e"/>
<rect x="1540.55" y="611" width="1.1" height="26" fill="#5e5e5e"/>
<rect x="1544.35" y="611" width="1.1" height="26" fill="#5e5e5e"/>
<rect x="1548.15" y="611" width="1.1" height="26" fill="#5e5e5e"/>
<path d="M1527 639 H1554 V674 L1550.5 706 H1530.5 L1527 674 Z" fill="#1b1b1b"/>
<path d="M1532 639 A8.5 9.5 0 0 0 1549 639 Z" fill="#4a4a4a"/>
<rect x="1530" y="662" width="21" height="9" fill="#4c4c4c"/>
<rect x="1527.7" y="674.5" width="25.6" height="5.5" fill="#4c4c4c"/>
<rect x="1528.7" y="685" width="23.6" height="5" fill="#4c4c4c"/>
<rect x="1529.5" y="694.5" width="22" height="4" fill="#4c4c4c"/>
<rect x="7.4" y="453.2" width="317.1" height="96.8" rx="4" fill="none" stroke="#606060" stroke-width="1.6"/>
<rect x="7.4" y="454" width="34.6" height="21" rx="10.5" fill="#e4e806"/>
<text transform="translate(24.7 468.74) scale(0.86 1)" text-anchor="middle" font-size="14" font-weight="bold" fill="#000">Wii</text>
<text transform="translate(108.4 488.33) scale(0.83 1)" text-anchor="middle" font-size="14.8" font-weight="normal" fill="#111" stroke="#111" stroke-width="0.6">COMPONENT OUT</text>
<text transform="translate(210 468.53) scale(0.83 1)" text-anchor="middle" font-size="14.8" font-weight="normal" fill="#111" stroke="#111" stroke-width="0.6">AUDIO OUT</text>
<text transform="translate(187.4 491.03) scale(0.83 1)" text-anchor="middle" font-size="14.8" font-weight="normal" fill="#111" stroke="#111" stroke-width="0.6">L</text>
<text transform="translate(229 491.03) scale(0.83 1)" text-anchor="middle" font-size="14.8" font-weight="normal" fill="#111" stroke="#111" stroke-width="0.6">R</text>
<text transform="translate(280 489.73) scale(0.83 1)" text-anchor="middle" font-size="14.8" font-weight="normal" fill="#111" stroke="#111" stroke-width="0.6">LAN IN</text>
<ellipse cx="64.2" cy="521" rx="14.2" ry="15.8" fill="#e80000" stroke="#f0a0a0" stroke-width="1.4"/>
<ellipse cx="64.2" cy="521" rx="9" ry="10" fill="#b00000"/>
<ellipse cx="64.2" cy="521" rx="5.8" ry="6.4" fill="#000"/>
<ellipse cx="102" cy="521" rx="14.2" ry="15.8" fill="#10b010" stroke="#90d090" stroke-width="1.4"/>
<ellipse cx="102" cy="521" rx="9" ry="10" fill="#087008"/>
<ellipse cx="102" cy="521" rx="5.8" ry="6.4" fill="#000"/>
<ellipse cx="139.2" cy="521" rx="14.2" ry="15.8" fill="#0a10f0" stroke="#a0a0f0" stroke-width="1.4"/>
<ellipse cx="139.2" cy="521" rx="9" ry="10" fill="#0808a0"/>
<ellipse cx="139.2" cy="521" rx="5.8" ry="6.4" fill="#000"/>
<ellipse cx="187.6" cy="521" rx="13.6" ry="15.2" fill="#f0f0f0" stroke="#a8a8a8" stroke-width="2"/>
<ellipse cx="187.6" cy="521" rx="6" ry="6.6" fill="#000"/>
<ellipse cx="225.9" cy="521" rx="14.2" ry="15.8" fill="#e80000" stroke="#f0a0a0" stroke-width="1.4"/>
<ellipse cx="225.9" cy="521" rx="9" ry="10" fill="#b00000"/>
<ellipse cx="225.9" cy="521" rx="5.8" ry="6.4" fill="#000"/>
<rect x="267.3" y="511.8" width="28.5" height="23.4" fill="#080808"/>
<rect x="268.3" y="522.8" width="26.5" height="11.4" fill="#7d6a44"/>
<rect x="274.93" y="522.8" width="0.8" height="11.4" fill="#6c5b3a"/>
<rect x="281.55" y="522.8" width="0.8" height="11.4" fill="#6c5b3a"/>
<rect x="288.18" y="522.8" width="0.8" height="11.4" fill="#6c5b3a"/>
<rect x="272.72" y="518.82" width="17.67" height="4.45" fill="#c8c8c4"/>
<rect x="276.71" y="515.08" width="9.69" height="4.68" fill="#c8c8c4"/>
<rect x="7.4" y="550" width="238" height="42.6" rx="4" fill="none" stroke="#606060" stroke-width="1.6"/>
<rect x="15.3" y="558" width="118.6" height="27.6" rx="13.8" fill="#e4e806"/>
<text transform="translate(74.6 576.22) scale(0.86 1)" text-anchor="middle" font-size="14.5" font-weight="bold" fill="#000">Wiil HDMI adapter</text>
<path d="M147 564.3 H190.2 V576.69 Q188.96 579.88 185.23 582 H151.97 Q148.24 579.88 147 576.69 Z" fill="none" stroke="#ede3bb" stroke-width="4.2" stroke-linejoin="round"/>
<path d="M147 564.3 H190.2 V576.69 Q188.96 579.88 185.23 582 H151.97 Q148.24 579.88 147 576.69 Z" fill="#4d4a44" stroke="#4e3e22" stroke-width="1.1" stroke-linejoin="round"/>
<rect x="154.13" y="570.67" width="28.94" height="3.19" rx="1.2" fill="#050505"/>
<rect x="155" y="601" width="33" height="15.5" fill="#f08a00" stroke="#3a2a10" stroke-width="1.2"/>
<rect x="159" y="601" width="1.2" height="15.5" fill="#5a3a10"/>
<rect x="182.8" y="601" width="1.2" height="15.5" fill="#5a3a10"/>
<circle cx="164.5" cy="611.54" r="1.6" fill="#3a1a00"/>
<circle cx="178.5" cy="611.54" r="1.6" fill="#3a1a00"/>
<rect x="150" y="616.5" width="43" height="29.5" fill="#4b4b4b" stroke="#000" stroke-width="1.6"/>
<rect x="154" y="646" width="35" height="12.5" fill="#4b4b4b" stroke="#000" stroke-width="1.6"/>
<rect x="271.25" y="552.4" width="19.5" height="26" fill="#7a7a7a"/>
<rect x="273.45" y="552.4" width="1.1" height="26" fill="#5e5e5e"/>
<rect x="277.25" y="552.4" width="1.1" height="26" fill="#5e5e5e"/>
<rect x="281.05" y="552.4" width="1.1" height="26" fill="#5e5e5e"/>
<rect x="284.85" y="552.4" width="1.1" height="26" fill="#5e5e5e"/>
<rect x="288.65" y="552.4" width="1.1" height="26" fill="#5e5e5e"/>
<path d="M267.5 580.4 H294.5 V615.4 L291 647.4 H271 L267.5 615.4 Z" fill="#1b1b1b"/>
<path d="M272.5 580.4 A8.5 9.5 0 0 0 289.5 580.4 Z" fill="#4a4a4a"/>
<rect x="270.5" y="603.4" width="21" height="9" fill="#4c4c4c"/>
<rect x="268.2" y="615.9" width="25.6" height="5.5" fill="#4c4c4c"/>
<rect x="269.2" y="626.4" width="23.6" height="5" fill="#4c4c4c"/>
<rect x="270" y="635.9" width="22" height="4" fill="#4c4c4c"/>
<rect x="362" y="485" width="161.5" height="64.7" rx="7" fill="none" stroke="#606060" stroke-width="1.6"/>
<rect x="406.5" y="488.8" width="76.9" height="21.7" rx="10.85" fill="#e4e806"/>
<text transform="translate(444.95 504.07) scale(0.86 1)" text-anchor="middle" font-size="14.5" font-weight="bold" fill="#000">SWITCH</text>
<rect x="365" y="516.5" width="28.5" height="23.5" fill="#080808"/>
<rect x="366" y="527.54" width="26.5" height="11.46" fill="#7d6a44"/>
<rect x="372.62" y="527.54" width="0.8" height="11.46" fill="#6c5b3a"/>
<rect x="379.25" y="527.54" width="0.8" height="11.46" fill="#6c5b3a"/>
<rect x="385.88" y="527.54" width="0.8" height="11.46" fill="#6c5b3a"/>
<rect x="370.42" y="523.55" width="17.67" height="4.46" fill="#c8c8c4"/>
<rect x="374.4" y="519.79" width="9.69" height="4.7" fill="#c8c8c4"/>
<rect x="397" y="516.5" width="28.5" height="23.5" fill="#080808"/>
<rect x="398" y="527.54" width="26.5" height="11.46" fill="#7d6a44"/>
<rect x="404.62" y="527.54" width="0.8" height="11.46" fill="#6c5b3a"/>
<rect x="411.25" y="527.54" width="0.8" height="11.46" fill="#6c5b3a"/>
<rect x="417.88" y="527.54" width="0.8" height="11.46" fill="#6c5b3a"/>
<rect x="402.42" y="523.55" width="17.67" height="4.46" fill="#c8c8c4"/>
<rect x="406.4" y="519.79" width="9.69" height="4.7" fill="#c8c8c4"/>
<rect x="428.7" y="516.5" width="28.5" height="23.5" fill="#080808"/>
<rect x="429.7" y="527.54" width="26.5" height="11.46" fill="#7d6a44"/>
<rect x="436.32" y="527.54" width="0.8" height="11.46" fill="#6c5b3a"/>
<rect x="442.95" y="527.54" width="0.8" height="11.46" fill="#6c5b3a"/>
<rect x="449.57" y="527.54" width="0.8" height="11.46" fill="#6c5b3a"/>
<rect x="434.12" y="523.55" width="17.67" height="4.46" fill="#c8c8c4"/>
<rect x="438.11" y="519.79" width="9.69" height="4.7" fill="#c8c8c4"/>
<rect x="460.3" y="516.5" width="28.5" height="23.5" fill="#080808"/>
<rect x="461.3" y="527.54" width="26.5" height="11.46" fill="#7d6a44"/>
<rect x="467.93" y="527.54" width="0.8" height="11.46" fill="#6c5b3a"/>
<rect x="474.55" y="527.54" width="0.8" height="11.46" fill="#6c5b3a"/>
<rect x="481.18" y="527.54" width="0.8" height="11.46" fill="#6c5b3a"/>
<rect x="465.72" y="523.55" width="17.67" height="4.46" fill="#c8c8c4"/>
<rect x="469.71" y="519.79" width="9.69" height="4.7" fill="#c8c8c4"/>
<rect x="492" y="516.5" width="28.5" height="23.5" fill="#080808"/>
<rect x="493" y="527.54" width="26.5" height="11.46" fill="#7d6a44"/>
<rect x="499.62" y="527.54" width="0.8" height="11.46" fill="#6c5b3a"/>
<rect x="506.25" y="527.54" width="0.8" height="11.46" fill="#6c5b3a"/>
<rect x="512.88" y="527.54" width="0.8" height="11.46" fill="#6c5b3a"/>
<rect x="497.42" y="523.55" width="17.67" height="4.46" fill="#c8c8c4"/>
<rect x="501.4" y="519.79" width="9.69" height="4.7" fill="#c8c8c4"/>
<path d="M492.8 401.5 H512.8 L516.3 433.5 V468.5 H489.3 V433.5 Z" fill="#1b1b1b"/>
<rect x="491.8" y="409" width="22" height="4" fill="#4c4c4c"/>
<rect x="491" y="417.5" width="23.6" height="5" fill="#4c4c4c"/>
<rect x="490" y="427" width="25.6" height="5.5" fill="#4c4c4c"/>
<rect x="492.3" y="436.5" width="21" height="9" fill="#4c4c4c"/>
<path d="M494.3 468.5 A8.5 9.5 0 0 1 511.3 468.5 Z" fill="#4a4a4a"/>
<rect x="493.05" y="470.5" width="19.5" height="26" fill="#7a7a7a"/>
<rect x="495.25" y="470.5" width="1.1" height="26" fill="#5e5e5e"/>
<rect x="499.05" y="470.5" width="1.1" height="26" fill="#5e5e5e"/>
<rect x="502.85" y="470.5" width="1.1" height="26" fill="#5e5e5e"/>
<rect x="506.65" y="470.5" width="1.1" height="26" fill="#5e5e5e"/>
<rect x="510.45" y="470.5" width="1.1" height="26" fill="#5e5e5e"/>
<line x1="393" y1="601.5" x2="400" y2="600.5" stroke="#222" stroke-width="1"/>
<rect x="371.85" y="553.9" width="19.5" height="26" fill="#7a7a7a"/>
<rect x="374.05" y="553.9" width="1.1" height="26" fill="#5e5e5e"/>
<rect x="377.85" y="553.9" width="1.1" height="26" fill="#5e5e5e"/>
<rect x="381.65" y="553.9" width="1.1" height="26" fill="#5e5e5e"/>
<rect x="385.45" y="553.9" width="1.1" height="26" fill="#5e5e5e"/>
<rect x="389.25" y="553.9" width="1.1" height="26" fill="#5e5e5e"/>
<path d="M368.1 581.9 H395.1 V616.9 L391.6 648.9 H371.6 L368.1 616.9 Z" fill="#1b1b1b"/>
<path d="M373.1 581.9 A8.5 9.5 0 0 0 390.1 581.9 Z" fill="#4a4a4a"/>
<rect x="371.1" y="604.9" width="21" height="9" fill="#4c4c4c"/>
<rect x="368.8" y="617.4" width="25.6" height="5.5" fill="#4c4c4c"/>
<rect x="369.8" y="627.9" width="23.6" height="5" fill="#4c4c4c"/>
<rect x="370.6" y="637.4" width="22" height="4" fill="#4c4c4c"/>
<rect x="403.25" y="553.9" width="19.5" height="26" fill="#7a7a7a"/>
<rect x="405.45" y="553.9" width="1.1" height="26" fill="#5e5e5e"/>
<rect x="409.25" y="553.9" width="1.1" height="26" fill="#5e5e5e"/>
<rect x="413.05" y="553.9" width="1.1" height="26" fill="#5e5e5e"/>
<rect x="416.85" y="553.9" width="1.1" height="26" fill="#5e5e5e"/>
<rect x="420.65" y="553.9" width="1.1" height="26" fill="#5e5e5e"/>
<path d="M399.5 581.9 H426.5 V616.9 L423 648.9 H403 L399.5 616.9 Z" fill="#1b1b1b"/>
<path d="M404.5 581.9 A8.5 9.5 0 0 0 421.5 581.9 Z" fill="#4a4a4a"/>
<rect x="402.5" y="604.9" width="21" height="9" fill="#4c4c4c"/>
<rect x="400.2" y="617.4" width="25.6" height="5.5" fill="#4c4c4c"/>
<rect x="401.2" y="627.9" width="23.6" height="5" fill="#4c4c4c"/>
<rect x="402" y="637.4" width="22" height="4" fill="#4c4c4c"/>
<rect x="434.85" y="553.9" width="19.5" height="26" fill="#7a7a7a"/>
<rect x="437.05" y="553.9" width="1.1" height="26" fill="#5e5e5e"/>
<rect x="440.85" y="553.9" width="1.1" height="26" fill="#5e5e5e"/>
<rect x="444.65" y="553.9" width="1.1" height="26" fill="#5e5e5e"/>
<rect x="448.45" y="553.9" width="1.1" height="26" fill="#5e5e5e"/>
<rect x="452.25" y="553.9" width="1.1" height="26" fill="#5e5e5e"/>
<path d="M431.1 581.9 H458.1 V616.9 L454.6 648.9 H434.6 L431.1 616.9 Z" fill="#1b1b1b"/>
<path d="M436.1 581.9 A8.5 9.5 0 0 0 453.1 581.9 Z" fill="#4a4a4a"/>
<rect x="434.1" y="604.9" width="21" height="9" fill="#4c4c4c"/>
<rect x="431.8" y="617.4" width="25.6" height="5.5" fill="#4c4c4c"/>
<rect x="432.8" y="627.9" width="23.6" height="5" fill="#4c4c4c"/>
<rect x="433.6" y="637.4" width="22" height="4" fill="#4c4c4c"/>
<rect x="466.75" y="553.9" width="19.5" height="26" fill="#7a7a7a"/>
<rect x="468.95" y="553.9" width="1.1" height="26" fill="#5e5e5e"/>
<rect x="472.75" y="553.9" width="1.1" height="26" fill="#5e5e5e"/>
<rect x="476.55" y="553.9" width="1.1" height="26" fill="#5e5e5e"/>
<rect x="480.35" y="553.9" width="1.1" height="26" fill="#5e5e5e"/>
<rect x="484.15" y="553.9" width="1.1" height="26" fill="#5e5e5e"/>
<path d="M463 581.9 H490 V616.9 L486.5 648.9 H466.5 L463 616.9 Z" fill="#1b1b1b"/>
<path d="M468 581.9 A8.5 9.5 0 0 0 485 581.9 Z" fill="#4a4a4a"/>
<rect x="466" y="604.9" width="21" height="9" fill="#4c4c4c"/>
<rect x="463.7" y="617.4" width="25.6" height="5.5" fill="#4c4c4c"/>
<rect x="464.7" y="627.9" width="23.6" height="5" fill="#4c4c4c"/>
<rect x="465.5" y="637.4" width="22" height="4" fill="#4c4c4c"/>
<rect x="1.5" y="820.7" width="316.5" height="96.4" rx="4" fill="none" stroke="#606060" stroke-width="1.6"/>
<rect x="6.7" y="827.4" width="84.8" height="21.6" rx="10.8" fill="#e4e806"/>
<text transform="translate(49.1 842.62) scale(0.86 1)" text-anchor="middle" font-size="14.5" font-weight="bold" fill="#000">Xbox One</text>
<text transform="translate(197.5 859.33) scale(0.83 1)" text-anchor="middle" font-size="14.8" font-weight="normal" fill="#111" stroke="#111" stroke-width="0.6">HDMI</text>
<text transform="translate(197.5 876.13) scale(0.83 1)" text-anchor="middle" font-size="14.8" font-weight="normal" fill="#111" stroke="#111" stroke-width="0.6">OUT</text>
<path d="M177 888 H219.8 V900.25 Q218.57 903.4 214.88 905.5 H181.92 Q178.23 903.4 177 900.25 Z" fill="none" stroke="#ede3bb" stroke-width="4.2" stroke-linejoin="round"/>
<path d="M177 888 H219.8 V900.25 Q218.57 903.4 214.88 905.5 H181.92 Q178.23 903.4 177 900.25 Z" fill="#4d4a44" stroke="#4e3e22" stroke-width="1.1" stroke-linejoin="round"/>
<rect x="184.06" y="894.3" width="28.68" height="3.15" rx="1.2" fill="#050505"/>
<text transform="translate(280 860.43) scale(0.83 1)" text-anchor="middle" font-size="14.8" font-weight="normal" fill="#111" stroke="#111" stroke-width="0.6">LAN IN</text>
<rect x="266.6" y="882.5" width="29" height="23.5" fill="#080808"/>
<rect x="267.6" y="893.54" width="27" height="11.46" fill="#7d6a44"/>
<rect x="274.35" y="893.54" width="0.8" height="11.46" fill="#6c5b3a"/>
<rect x="281.1" y="893.54" width="0.8" height="11.46" fill="#6c5b3a"/>
<rect x="287.85" y="893.54" width="0.8" height="11.46" fill="#6c5b3a"/>
<rect x="272.11" y="889.55" width="17.98" height="4.46" fill="#c8c8c4"/>
<rect x="276.17" y="885.79" width="9.86" height="4.7" fill="#c8c8c4"/>
<rect x="183.5" y="921" width="33" height="15.5" fill="#f08a00" stroke="#3a2a10" stroke-width="1.2"/>
<rect x="187.5" y="921" width="1.2" height="15.5" fill="#5a3a10"/>
<rect x="211.3" y="921" width="1.2" height="15.5" fill="#5a3a10"/>
<circle cx="193" cy="931.54" r="1.6" fill="#3a1a00"/>
<circle cx="207" cy="931.54" r="1.6" fill="#3a1a00"/>
<rect x="178.5" y="936.5" width="43" height="29.5" fill="#4b4b4b" stroke="#000" stroke-width="1.6"/>
<rect x="182.5" y="966" width="35" height="12.5" fill="#4b4b4b" stroke="#000" stroke-width="1.6"/>
<rect x="275.25" y="925" width="19.5" height="26" fill="#7a7a7a"/>
<rect x="277.45" y="925" width="1.1" height="26" fill="#5e5e5e"/>
<rect x="281.25" y="925" width="1.1" height="26" fill="#5e5e5e"/>
<rect x="285.05" y="925" width="1.1" height="26" fill="#5e5e5e"/>
<rect x="288.85" y="925" width="1.1" height="26" fill="#5e5e5e"/>
<rect x="292.65" y="925" width="1.1" height="26" fill="#5e5e5e"/>
<path d="M271.5 953 H298.5 V988 L295 1020 H275 L271.5 988 Z" fill="#1b1b1b"/>
<path d="M276.5 953 A8.5 9.5 0 0 0 293.5 953 Z" fill="#4a4a4a"/>
<rect x="274.5" y="976" width="21" height="9" fill="#4c4c4c"/>
<rect x="272.2" y="988.5" width="25.6" height="5.5" fill="#4c4c4c"/>
<rect x="273.2" y="999" width="23.6" height="5" fill="#4c4c4c"/>
<rect x="274" y="1008.5" width="22" height="4" fill="#4c4c4c"/>
<rect x="457.3" y="824.2" width="317.3" height="96.1" rx="4" fill="none" stroke="#606060" stroke-width="1.6"/>
<rect x="458" y="825.3" width="74.3" height="19.7" rx="9.85" fill="#e4e806"/>
<text transform="translate(495.15 839.57) scale(0.86 1)" text-anchor="middle" font-size="14.5" font-weight="bold" fill="#000">Cable Box</text>
<text transform="translate(482.7 868.03) scale(0.83 1)" text-anchor="middle" font-size="14.8" font-weight="normal" fill="#111" stroke="#111" stroke-width="0.6">IN</text>
<ellipse cx="485.7" cy="889.9" rx="15.2" ry="16.26" fill="#0a0a0a"/>
<ellipse cx="485.7" cy="889.9" rx="10.5" ry="11.24" fill="#c8641e"/>
<circle cx="485.7" cy="889.9" r="1.3" fill="#000"/>
<text transform="translate(690.2 859.03) scale(0.83 1)" text-anchor="middle" font-size="14.8" font-weight="normal" fill="#111" stroke="#111" stroke-width="0.6">HDMI</text>
<text transform="translate(690.2 875.93) scale(0.83 1)" text-anchor="middle" font-size="14.8" font-weight="normal" fill="#111" stroke="#111" stroke-width="0.6">OUT</text>
<path d="M670 887.6 H713 V900.2 Q711.76 903.44 708.05 905.6 H674.95 Q671.24 903.44 670 900.2 Z" fill="none" stroke="#ede3bb" stroke-width="4.2" stroke-linejoin="round"/>
<path d="M670 887.6 H713 V900.2 Q711.76 903.44 708.05 905.6 H674.95 Q671.24 903.44 670 900.2 Z" fill="#4d4a44" stroke="#4e3e22" stroke-width="1.1" stroke-linejoin="round"/>
<rect x="677.1" y="894.08" width="28.81" height="3.24" rx="1.2" fill="#050505"/>
<rect x="678" y="927.7" width="33" height="15.5" fill="#f08a00" stroke="#3a2a10" stroke-width="1.2"/>
<rect x="682" y="927.7" width="1.2" height="15.5" fill="#5a3a10"/>
<rect x="705.8" y="927.7" width="1.2" height="15.5" fill="#5a3a10"/>
<circle cx="687.5" cy="938.24" r="1.6" fill="#3a1a00"/>
<circle cx="701.5" cy="938.24" r="1.6" fill="#3a1a00"/>
<rect x="673" y="943.2" width="43" height="29.5" fill="#4b4b4b" stroke="#000" stroke-width="1.6"/>
<rect x="677" y="972.7" width="35" height="12.5" fill="#4b4b4b" stroke="#000" stroke-width="1.6"/>
<rect x="484.5" y="927" width="3" height="24" fill="#b5b5b5"/>
<rect x="470" y="949.5" width="32" height="12.5" fill="#050505"/>
<rect x="474" y="961.5" width="24" height="15" fill="#050505"/>
<path d="M474 976.5 H498 L493 982.5 H479 Z" fill="#050505"/>
<rect x="480" y="981.5" width="12" height="18" fill="#111"/>
<rect x="476" y="983" width="20" height="2.6" fill="#1a1a1a"/>
<rect x="476" y="987.6" width="20" height="2.6" fill="#1a1a1a"/>
<rect x="476" y="992.2" width="20" height="2.6" fill="#1a1a1a"/>
<rect x="476" y="996.8" width="20" height="2.6" fill="#1a1a1a"/>
<rect x="298.3" y="1112" width="102.4" height="187" rx="4" fill="none" stroke="#484848" stroke-width="1.3"/>
<rect x="308" y="1123" width="83" height="165" fill="none" stroke="#484848" stroke-width="1.2"/>
<line x1="300.3" y1="1114" x2="308" y2="1123" stroke="#444" stroke-width="1.1"/>
<line x1="398.7" y1="1114" x2="391" y2="1123" stroke="#444" stroke-width="1.1"/>
<line x1="300.3" y1="1297" x2="308" y2="1288" stroke="#444" stroke-width="1.1"/>
<line x1="398.7" y1="1297" x2="391" y2="1288" stroke="#444" stroke-width="1.1"/>
<circle cx="349.4" cy="1138.4" r="5.8" fill="#e4e4e4" stroke="#555" stroke-width="1"/>
<circle cx="349.4" cy="1138.4" r="3.2" fill="#f2f2f2" stroke="#666" stroke-width="0.9"/>
<circle cx="349.4" cy="1273" r="5.8" fill="#e4e4e4" stroke="#555" stroke-width="1"/>
<circle cx="349.4" cy="1273" r="3.2" fill="#f2f2f2" stroke="#666" stroke-width="0.9"/>
<rect x="311" y="1147.7" width="76.5" height="22.9" rx="11.45" fill="#e4e806"/>
<text transform="translate(349.25 1163.57) scale(0.86 1)" text-anchor="middle" font-size="14.5" font-weight="bold" fill="#000">Cable</text>
<ellipse cx="351" cy="1206.6" rx="17" ry="18.19" fill="#0a0a0a"/>
<ellipse cx="351" cy="1206.6" rx="12" ry="12.84" fill="#c8641e"/>
<circle cx="351" cy="1206.6" r="1.3" fill="#000"/>
<rect x="405" y="1204" width="24" height="3" fill="#b5b5b5"/>
<rect x="427" y="1189.5" width="12.5" height="31.5" fill="#050505"/>
<rect x="439" y="1194" width="13" height="23" fill="#050505"/>
<path d="M451.5 1194 V1217 Q455 1216.5 456 1211.5 V1199.5 Q455 1194.5 451.5 1194 Z" fill="#050505"/>
<rect x="455.5" y="1200" width="16" height="11" fill="#161616"/>
<rect x="456.5" y="1195" width="2.3" height="21" fill="#222"/>
<rect x="460.8" y="1195" width="2.3" height="21" fill="#222"/>
<rect x="465.1" y="1195" width="2.3" height="21" fill="#222"/>
<rect x="469.4" y="1195" width="2.3" height="21" fill="#222"/>
<rect x="1186.5" y="777.8" width="304.7" height="114.3" rx="4" fill="none" stroke="#606060" stroke-width="1.6"/>
<rect x="1193" y="787.5" width="37.8" height="19.6" rx="9.8" fill="#e4e806"/>
<text transform="translate(1211.9 801.54) scale(0.86 1)" text-anchor="middle" font-size="14" font-weight="bold" fill="#000">TV</text>
<text transform="translate(1329.2 822.63) scale(0.83 1)" text-anchor="middle" font-size="14.8" font-weight="normal" fill="#111" stroke="#111" stroke-width="0.6">HDMI 1</text>
<text transform="translate(1395.2 824.73) scale(0.83 1)" text-anchor="middle" font-size="14.8" font-weight="normal" fill="#111" stroke="#111" stroke-width="0.6">LAN IN</text>
<circle cx="1338.7" cy="832" r="0.8" fill="#666"/>
<path d="M1307.8 854.6 H1351 V867.13 Q1349.76 870.35 1346.03 872.5 H1312.77 Q1309.04 870.35 1307.8 867.13 Z" fill="none" stroke="#ede3bb" stroke-width="4.2" stroke-linejoin="round"/>
<path d="M1307.8 854.6 H1351 V867.13 Q1349.76 870.35 1346.03 872.5 H1312.77 Q1309.04 870.35 1307.8 867.13 Z" fill="#4d4a44" stroke="#4e3e22" stroke-width="1.1" stroke-linejoin="round"/>
<rect x="1314.93" y="861.04" width="28.94" height="3.22" rx="1.2" fill="#050505"/>
<rect x="1385.6" y="854" width="29.2" height="23.3" fill="#080808"/>
<rect x="1386.6" y="864.95" width="27.2" height="11.35" fill="#7d6a44"/>
<rect x="1393.4" y="864.95" width="0.8" height="11.35" fill="#6c5b3a"/>
<rect x="1400.2" y="864.95" width="0.8" height="11.35" fill="#6c5b3a"/>
<rect x="1407" y="864.95" width="0.8" height="11.35" fill="#6c5b3a"/>
<rect x="1391.15" y="860.99" width="18.1" height="4.43" fill="#c8c8c4"/>
<rect x="1395.24" y="857.26" width="9.93" height="4.66" fill="#c8c8c4"/>
<rect x="1312.3" y="909.2" width="33" height="15.5" fill="#f08a00" stroke="#3a2a10" stroke-width="1.2"/>
<rect x="1316.3" y="909.2" width="1.2" height="15.5" fill="#5a3a10"/>
<rect x="1340.1" y="909.2" width="1.2" height="15.5" fill="#5a3a10"/>
<circle cx="1321.8" cy="919.74" r="1.6" fill="#3a1a00"/>
<circle cx="1335.8" cy="919.74" r="1.6" fill="#3a1a00"/>
<rect x="1307.3" y="924.7" width="43" height="29.5" fill="#4b4b4b" stroke="#000" stroke-width="1.6"/>
<rect x="1311.3" y="954.2" width="35" height="12.5" fill="#4b4b4b" stroke="#000" stroke-width="1.6"/>
<rect x="1393.25" y="907.8" width="19.5" height="26" fill="#7a7a7a"/>
<rect x="1395.45" y="907.8" width="1.1" height="26" fill="#5e5e5e"/>
<rect x="1399.25" y="907.8" width="1.1" height="26" fill="#5e5e5e"/>
<rect x="1403.05" y="907.8" width="1.1" height="26" fill="#5e5e5e"/>
<rect x="1406.85" y="907.8" width="1.1" height="26" fill="#5e5e5e"/>
<rect x="1410.65" y="907.8" width="1.1" height="26" fill="#5e5e5e"/>
<path d="M1389.5 935.8 H1416.5 V970.8 L1413 1002.8 H1393 L1389.5 970.8 Z" fill="#1b1b1b"/>
<path d="M1394.5 935.8 A8.5 9.5 0 0 0 1411.5 935.8 Z" fill="#4a4a4a"/>
<rect x="1392.5" y="958.8" width="21" height="9" fill="#4c4c4c"/>
<rect x="1390.2" y="971.3" width="25.6" height="5.5" fill="#4c4c4c"/>
<rect x="1391.2" y="981.8" width="23.6" height="5" fill="#4c4c4c"/>
<rect x="1392" y="991.3" width="22" height="4" fill="#4c4c4c"/>
</svg>
</body></html>
